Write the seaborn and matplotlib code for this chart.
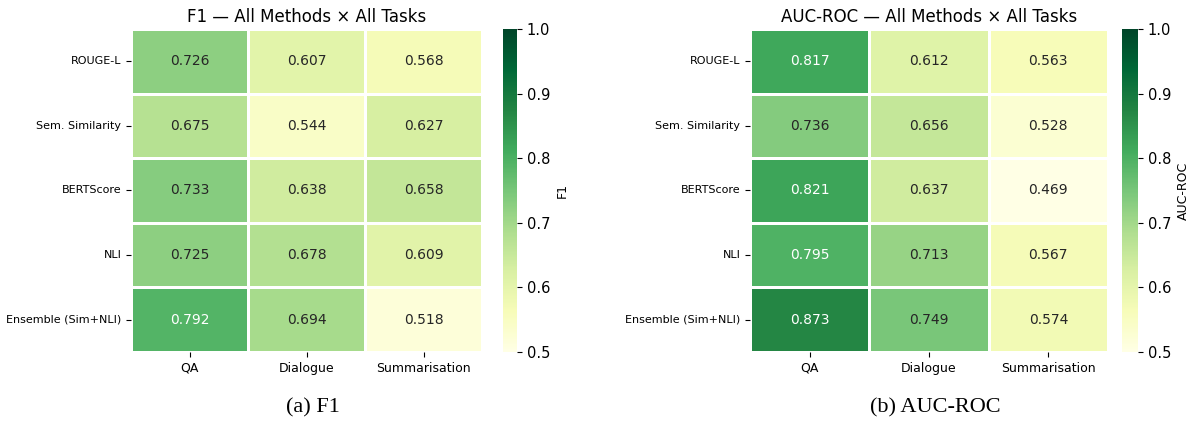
import numpy as np
import pandas as pd
import matplotlib
matplotlib.use("Agg")
import matplotlib.pyplot as plt
import seaborn as sns

methods = ["ROUGE-L", "Sem. Similarity", "BERTScore", "NLI", "Ensemble (Sim+NLI)"]
tasks = ["QA", "Dialogue", "Summarisation"]

f1_vals = [
    [0.726, 0.607, 0.568],
    [0.675, 0.544, 0.627],
    [0.733, 0.638, 0.658],
    [0.725, 0.678, 0.609],
    [0.792, 0.694, 0.518],
]
auc_vals = [
    [0.817, 0.612, 0.563],
    [0.736, 0.656, 0.528],
    [0.821, 0.637, 0.469],
    [0.795, 0.713, 0.567],
    [0.873, 0.749, 0.574],
]

df_f1 = pd.DataFrame(f1_vals, index=methods, columns=tasks)
df_auc = pd.DataFrame(auc_vals, index=methods, columns=tasks)

W, H = 1194, 432
fig = plt.figure(figsize=(W / 100, H / 100), dpi=100)


def px_rect(x0, y0, x1, y1):
    return [x0 / W, 1 - y1 / H, (x1 - x0) / W, (y1 - y0) / H]


panels = [
    (df_f1, "F1", "(a) F1", px_rect(131, 29, 482, 352), px_rect(503, 29, 517, 352)),
    (df_auc, "AUC-ROC", "(b) AUC-ROC", px_rect(750, 29, 1108, 352), px_rect(1122, 29, 1138, 352)),
]

for df, metric, caption, rect, cbar_rect in panels:
    ax = fig.add_axes(rect)
    cax = fig.add_axes(cbar_rect)
    sns.heatmap(
        df,
        annot=True,
        fmt=".3f",
        cmap="YlGn",
        vmin=0.5,
        vmax=1.0,
        linewidths=1,
        linecolor="white",
        ax=ax,
        cbar_ax=cax,
        annot_kws={"size": 10},
        cbar_kws={"label": metric},
    )
    ax.set_title(f"{metric} — All Methods × All Tasks", fontsize=12, pad=5)
    ax.set_xlabel("")
    ax.set_ylabel("")
    ax.tick_params(axis="y", labelsize=8, rotation=0)
    ax.tick_params(axis="x", labelsize=9, rotation=0)
    cax.tick_params(labelsize=10.5)
    cax.yaxis.label.set_size(9)
    cx = rect[0] + rect[2] / 2 + 0.005
    fig.text(
        cx, 0.055, caption, ha="center", va="center",
        fontsize=16, family=["Liberation Serif", "DejaVu Serif"],
    )

plt.savefig("out.png", dpi=100)
